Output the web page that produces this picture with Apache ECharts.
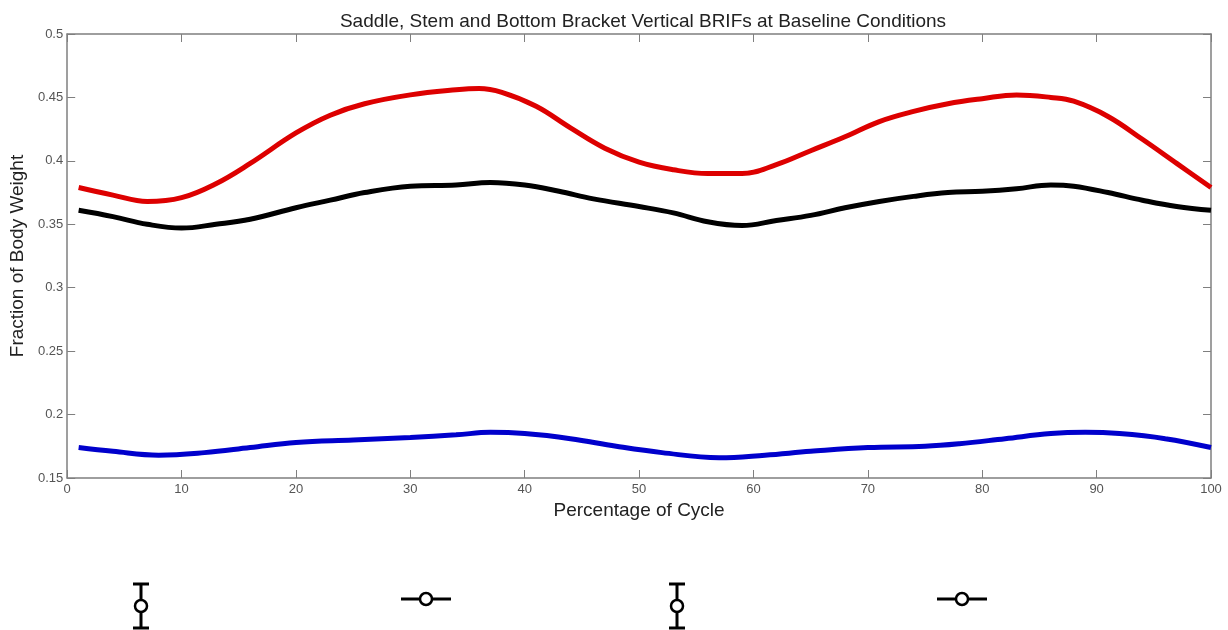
<!DOCTYPE html>
<html>
<head>
<meta charset="utf-8">
<script src="https://cdn.jsdelivr.net/npm/echarts@6/dist/echarts.min.js"></script>
<style>html,body{margin:0;padding:0;background:#fff;}#c{width:1228px;height:630px;}</style>
</head>
<body>
<div id="c"></div>
<script>
const titleText = 'Saddle, Stem and Bottom Bracket Vertical BRIFs at Baseline Conditions';
const xName = 'Percentage of Cycle';
const yName = 'Fraction of Body Weight';

const redX = [1,4,7,10,13,16,20,23,26,30,34,36,38,41,44,47,50,53,56,59,62,65,68,71,74,77,80,83,86,88,91,94,97,100];
const redY = [0.379,0.373,0.368,0.371,0.382,0.398,0.422,0.436,0.445,0.452,0.456,0.457,0.454,0.443,0.426,0.410,0.399,0.393,0.390,0.390,0.397,0.408,0.419,0.431,0.439,0.445,0.449,0.452,0.450,0.447,0.435,0.417,0.398,0.379];

const blackX = [1,4,7,10,13,16,20,23,26,30,34,37,40,43,46,50,53,56,59,62,65,68,71,74,77,80,83,86,88,91,94,97,100];
const blackY = [0.361,0.356,0.350,0.347,0.350,0.354,0.363,0.369,0.375,0.380,0.381,0.383,0.381,0.376,0.370,0.364,0.359,0.352,0.349,0.353,0.357,0.363,0.368,0.372,0.375,0.376,0.378,0.381,0.380,0.375,0.369,0.364,0.361];

const blueX = [1,4,8,12,16,20,25,30,34,37,40,44,48,52,57,61,65,70,75,78,82,86,89,92,96,100];
const blueY = [0.174,0.171,0.168,0.170,0.174,0.178,0.180,0.182,0.184,0.186,0.185,0.181,0.175,0.170,0.166,0.168,0.171,0.174,0.175,0.177,0.181,0.185,0.186,0.185,0.181,0.174];

function pairs(xs, ys){ return xs.map((x,i)=>[x, ys[i]]); }

const axisGray = '#7f7f7f';
const labelColor = '#555';
const font = 'Liberation Sans, Arial, sans-serif';

const chart = echarts.init(document.getElementById('c'));
const tickCommon = {show:true, inside:true, length:8, lineStyle:{color:axisGray, width:1}};

function vBar(cx){
  return [
    {type:'line', shape:{x1:cx,y1:583,x2:cx,y2:628}, style:{stroke:'#000', lineWidth:3}},
    {type:'line', shape:{x1:cx-8,y1:584,x2:cx+8,y2:584}, style:{stroke:'#000', lineWidth:3}},
    {type:'line', shape:{x1:cx-8,y1:628,x2:cx+8,y2:628}, style:{stroke:'#000', lineWidth:3}},
    {type:'circle', shape:{cx:cx, cy:606, r:6}, style:{stroke:'#000', fill:'#fff', lineWidth:2.5}}
  ];
}
function hBar(cx){
  return [
    {type:'line', shape:{x1:cx-25,y1:599,x2:cx+25,y2:599}, style:{stroke:'#000', lineWidth:3}},
    {type:'circle', shape:{cx:cx, cy:599, r:6}, style:{stroke:'#000', fill:'#fff', lineWidth:2.5}}
  ];
}

chart.setOption({
  animation:false,
  backgroundColor:'#fff',
  title:{text:titleText, left:638, top:7, textAlign:'center',
    textStyle:{fontFamily:font, fontSize:19, fontWeight:'normal', color:'#222'}},
  grid:{left:66, right:17, top:34, bottom:152, show:false},
  xAxis:[
    {type:'value', min:0, max:100, interval:10, position:'bottom',
     name:xName, nameLocation:'middle', nameGap:21,
     nameTextStyle:{fontFamily:font, fontSize:19, color:'#222'},
     axisLine:{show:true, lineStyle:{color:axisGray, width:1.5}},
     axisTick:tickCommon,
     axisLabel:{fontFamily:font, fontSize:13, color:labelColor, margin:5},
     splitLine:{show:false}},
    {type:'value', min:0, max:100, interval:10, position:'top',
     axisLine:{show:true, onZero:false, lineStyle:{color:axisGray, width:1.5}},
     axisTick:tickCommon, axisLabel:{show:false}, splitLine:{show:false}}
  ],
  yAxis:[
    {type:'value', min:0.15, max:0.5, interval:0.05, position:'left',
     name:yName, nameLocation:'middle', nameGap:38, nameRotate:90,
     nameTextStyle:{fontFamily:font, fontSize:19, color:'#222'},
     axisLine:{show:true, lineStyle:{color:axisGray, width:1.5}},
     axisTick:tickCommon,
     axisLabel:{fontFamily:font, fontSize:13, color:labelColor, margin:4,
       formatter:v=>String(parseFloat(v.toFixed(2)))},
     splitLine:{show:false}},
    {type:'value', min:0.15, max:0.5, interval:0.05, position:'right',
     axisLine:{show:true, onZero:false, lineStyle:{color:axisGray, width:1.5}},
     axisTick:tickCommon, axisLabel:{show:false}, splitLine:{show:false}}
  ],
  series:[
    {type:'line', name:'Saddle', data:pairs(redX, redY), smooth:0.4, showSymbol:false,
     lineStyle:{color:'#dd0000', width:5}},
    {type:'line', name:'Stem', data:pairs(blackX, blackY), smooth:0.4, showSymbol:false,
     lineStyle:{color:'#000000', width:5}},
    {type:'line', name:'Bottom Bracket', data:pairs(blueX, blueY), smooth:0.4, showSymbol:false,
     lineStyle:{color:'#0000cc', width:5}}
  ],
  graphic:[].concat(vBar(141), hBar(426), vBar(677), hBar(962))
});
</script>
</body>
</html>
